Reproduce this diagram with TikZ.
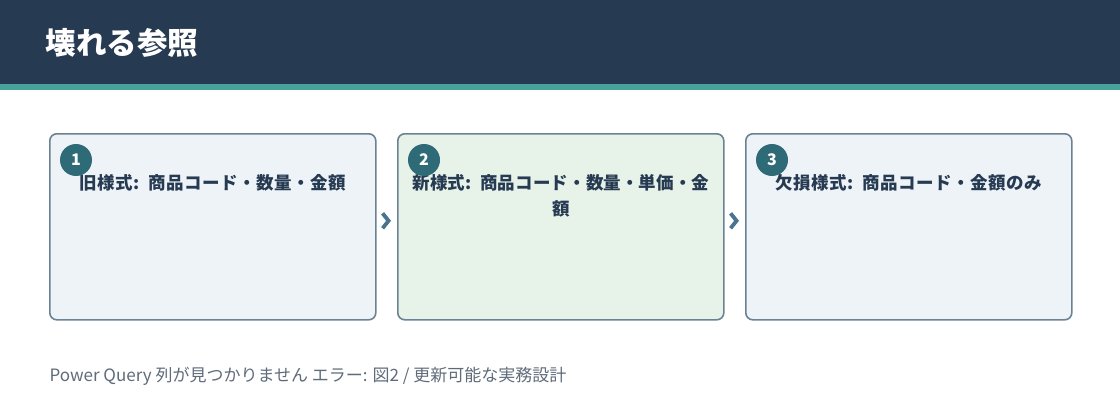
\documentclass[tikz,border=0pt]{standalone}
\usepackage{fontspec}
\setmainfont{Noto Sans CJK JP}
\XeTeXlinebreaklocale "ja"
\XeTeXlinebreakskip=0pt plus 1pt
\usetikzlibrary{positioning,arrows.meta}
\definecolor{navy}{HTML}{263A52}
\definecolor{teal}{HTML}{46A29A}
\definecolor{badge}{HTML}{2E6B77}
\definecolor{edge}{HTML}{6B8294}
\definecolor{paleblue}{HTML}{EEF3F8}
\definecolor{palegreen}{HTML}{E7F2E8}
\definecolor{chev}{HTML}{4A7390}
\definecolor{foot}{HTML}{5F6B7A}
\begin{document}
\begin{tikzpicture}[x=1pt,y=1pt,
    card/.style={draw=edge,line width=1.6pt,rounded corners=7pt,minimum width=326pt,minimum height=186pt,anchor=north west},
    badge/.style={circle,fill=badge,minimum size=32pt,inner sep=0pt,text=white,font=\fontsize{16}{16}\selectfont\bfseries},
    cardtitle/.style={anchor=north,text width=310pt,align=center,text=navy,font=\fontsize{17.5}{26}\selectfont\bfseries},
    flow/.style={draw=chev,line width=1pt,shorten <=9pt,shorten >=6pt,-{Straight Barb[length=6pt,width=15pt,line width=3.8pt]}}]
    \useasboundingbox (0,0) rectangle (1120,-420);
    \fill[navy] (0,0) rectangle (1120,-84);
    \fill[teal] (0,-84) rectangle (1120,-90);
    \node[anchor=west,text=white,font=\fontsize{30.5}{30.5}\selectfont\bfseries] (title) at (42,-43) {壊れる参照};
    \node[card,fill=paleblue] (c1) at (49,-133) {};
    \node[card,fill=palegreen] (c2) at (397,-133) {};
    \node[card,fill=paleblue] (c3) at (745,-133) {};
    \foreach \i/\t in {1/旧様式: 商品コード・数量・金額,2/新様式: 商品コード・数量・単価・金\\額,3/欠損様式: 商品コード・金額のみ} {
        \node[cardtitle] (t\i) at ([yshift=-38pt]c\i.north) {\t};
        \node[badge] (n\i) at ([xshift=27pt,yshift=-27pt]c\i.north west) {\i};
    }
    \draw[flow] ([yshift=6pt]c1.east) -- ([yshift=6pt]c2.west);
    \draw[flow] ([yshift=6pt]c2.east) -- ([yshift=6pt]c3.west);
    \node[anchor=west,text=foot,font=\fontsize{17}{17}\selectfont] (note) at (46,-376) {Power Query 列が見つかりません エラー: 図2 / 更新可能な実務設計};
\end{tikzpicture}
\end{document}
